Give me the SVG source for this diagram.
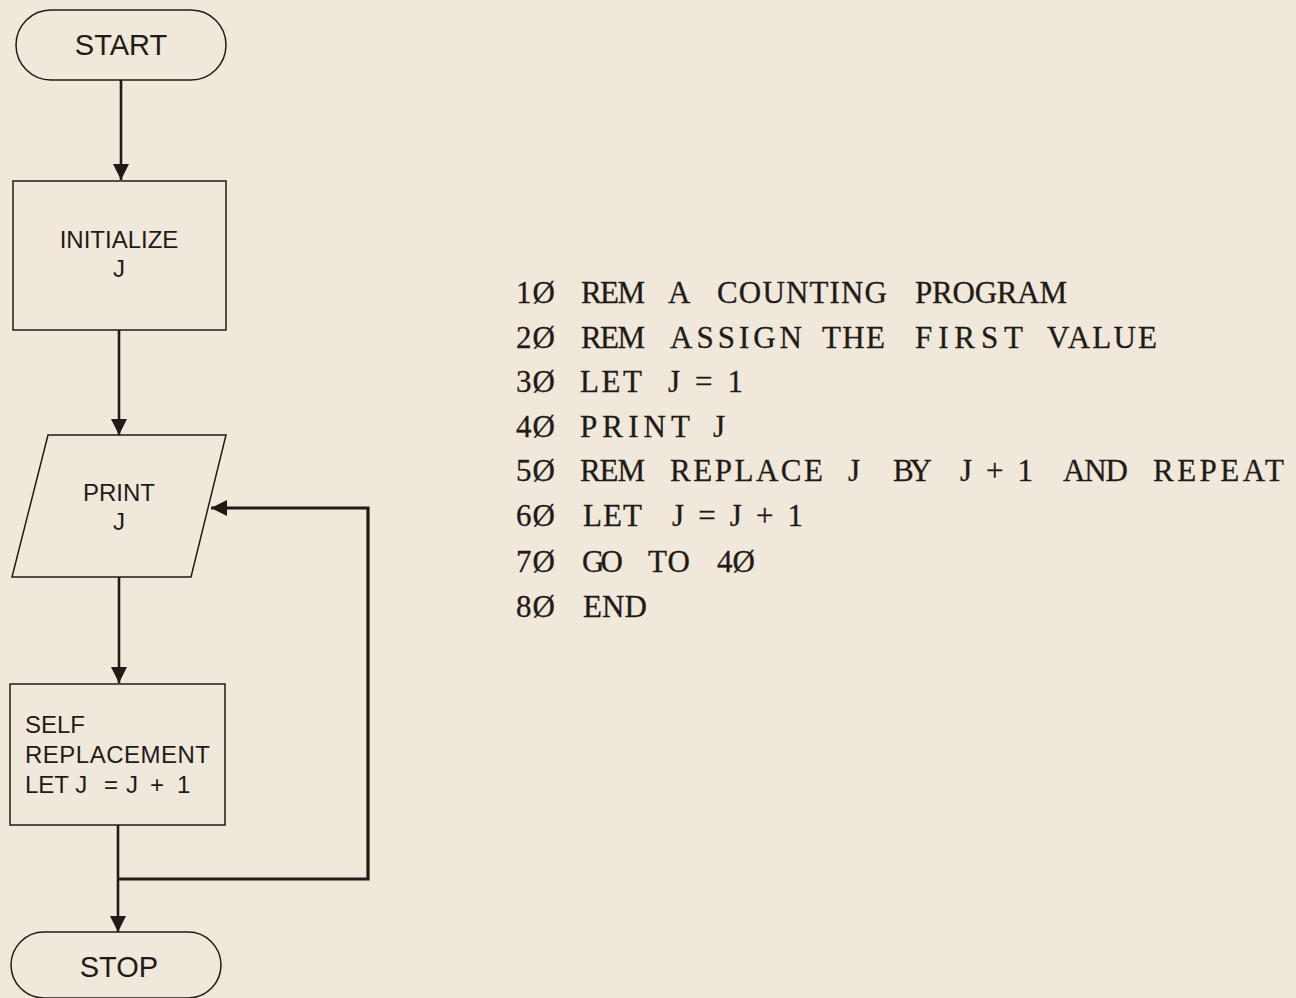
<svg xmlns="http://www.w3.org/2000/svg" width="1296" height="998" viewBox="0 0 1296 998">
<style>
.node{fill:none;stroke:#1f1b17;stroke-width:1.5}
.lbl{font-family:"Liberation Sans",Arial,sans-serif;font-size:24px;fill:#1f1b17}
.big{font-size:29px}
.code{font-family:"Liberation Serif","Times New Roman",serif;font-size:31px;fill:#1f1b17;stroke:#1f1b17;stroke-width:0.3}
.conn{fill:none;stroke:#1f1b17;stroke-width:2.6}
.loop{fill:none;stroke:#1f1b17;stroke-width:3.2}
</style>
<defs>
<marker id="ah" markerWidth="16" markerHeight="16" viewBox="0 0 16 16" refX="16" refY="8" orient="auto" markerUnits="userSpaceOnUse">
<path d="M0,0 L16,8 L0,16 Z" fill="#1f1b17"/>
</marker>
</defs>
<rect width="1296" height="998" fill="#f0e8da"/>
<g id="connectors">
<line class="conn" x1="121" y1="80" x2="121" y2="180" marker-end="url(#ah)"/>
<line class="conn" x1="119" y1="330" x2="119" y2="435" marker-end="url(#ah)"/>
<line class="conn" x1="119" y1="577" x2="119" y2="683" marker-end="url(#ah)"/>
<line class="conn" x1="118" y1="825" x2="118" y2="932" marker-end="url(#ah)"/>
<polyline class="loop" points="118,879 368,879 368,508 211,508" marker-end="url(#ah)"/>
</g>
<g id="start">
<rect class="node" x="16" y="10" width="210" height="70" rx="35" ry="35"/>
<text class="lbl big" x="121" y="55" text-anchor="middle">START</text>
</g>
<g id="initialize">
<rect class="node" x="13" y="181" width="213" height="149"/>
<text class="lbl" x="119" y="248" text-anchor="middle">INITIALIZE</text>
<text class="lbl" x="119" y="277" text-anchor="middle">J</text>
</g>
<g id="print">
<polygon class="node" points="48,435 226,435 191,577 12,577"/>
<text class="lbl" x="119" y="501" text-anchor="middle">PRINT</text>
<text class="lbl" x="119" y="530" text-anchor="middle">J</text>
</g>
<g id="self-replacement">
<rect class="node" x="10" y="684" width="215" height="141"/>
<text class="lbl" x="25" y="733">SELF</text>
<text class="lbl" x="25" y="763" textLength="185">REPLACEMENT</text>
<text class="lbl" y="793"><tspan x="25">LET J</tspan><tspan x="104">=</tspan><tspan x="126">J</tspan><tspan x="150">+</tspan><tspan x="177">1</tspan></text>
</g>
<g id="stop">
<rect class="node" x="11" y="932" width="210" height="66" rx="33" ry="33"/>
<text class="lbl big" x="119" y="977" text-anchor="middle">STOP</text>
</g>
<g id="program">
<text class="code" y="303"><tspan x="516" textLength="39">1Ø</tspan><tspan x="581" textLength="64">REM</tspan><tspan x="668" textLength="22">A</tspan><tspan x="717" textLength="170">COUNTING</tspan><tspan x="915" textLength="152">PROGRAM</tspan></text>
<text class="code" y="348"><tspan x="516" textLength="39">2Ø</tspan><tspan x="581" textLength="64">REM</tspan><tspan x="670" textLength="132">ASSIGN</tspan><tspan x="822" textLength="63">THE</tspan><tspan x="915" textLength="108">FIRST</tspan><tspan x="1047" textLength="110">VALUE</tspan></text>
<text class="code" y="392"><tspan x="516" textLength="39">3Ø</tspan><tspan x="580" textLength="62">LET</tspan><tspan x="668" textLength="75">J=1</tspan></text>
<text class="code" y="437"><tspan x="516" textLength="39">4Ø</tspan><tspan x="580" textLength="110">PRINT</tspan><tspan x="713" textLength="18">J</tspan></text>
<text class="code" y="481"><tspan x="516" textLength="39">5Ø</tspan><tspan x="580" textLength="65">REM</tspan><tspan x="670" textLength="153">REPLACE</tspan><tspan x="848" textLength="15">J</tspan><tspan x="893" textLength="39">BY</tspan><tspan x="960" textLength="73">J+1</tspan><tspan x="1063" textLength="65">AND</tspan><tspan x="1153" textLength="131">REPEAT</tspan></text>
<text class="code" y="526"><tspan x="516" textLength="39">6Ø</tspan><tspan x="583" textLength="59">LET</tspan><tspan x="672" textLength="131">J=J+1</tspan></text>
<text class="code" y="572"><tspan x="516" textLength="39">7Ø</tspan><tspan x="582" textLength="41">GO</tspan><tspan x="648" textLength="42">TO</tspan><tspan x="717" textLength="38">4Ø</tspan></text>
<text class="code" y="617"><tspan x="516" textLength="39">8Ø</tspan><tspan x="583" textLength="64">END</tspan></text>
</g>
</svg>
